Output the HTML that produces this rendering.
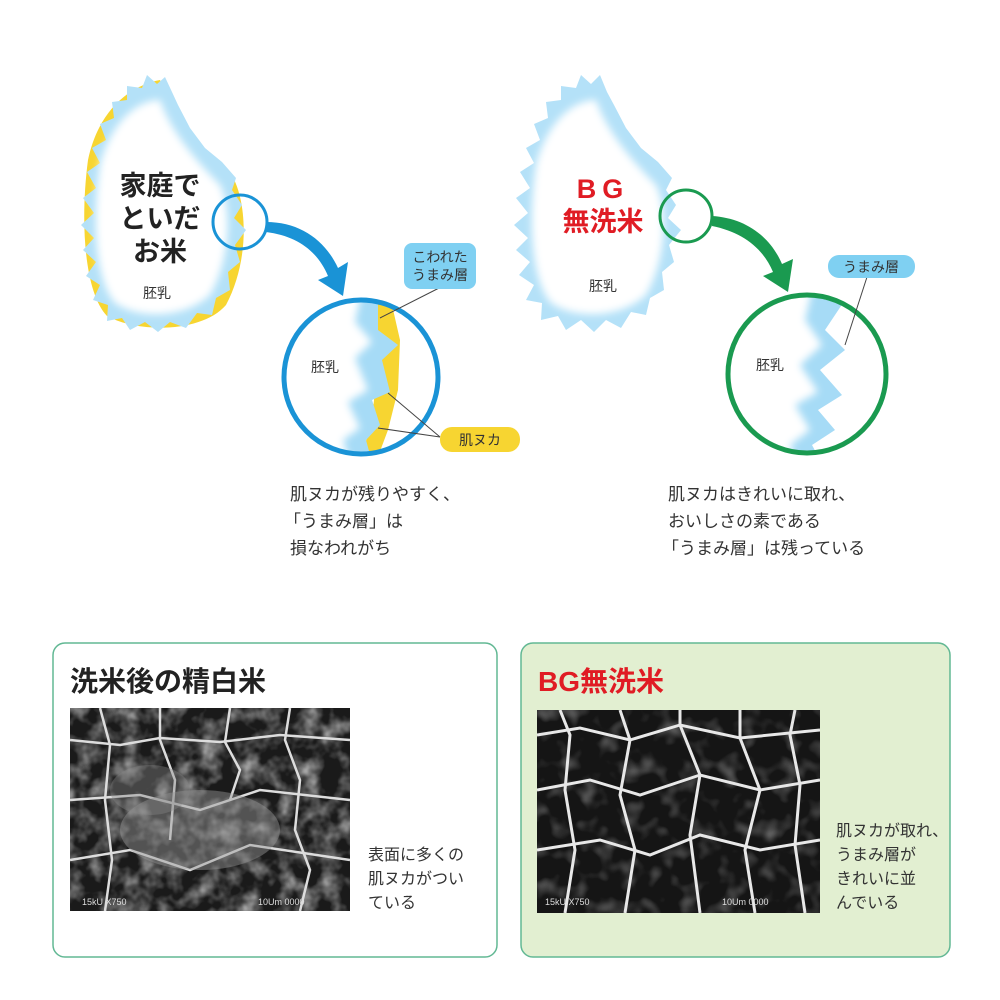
<!DOCTYPE html>
<html><head><meta charset="utf-8"><style>
body{margin:0;background:#fff;}
svg{display:block}
text{font-family:"Liberation Sans","Noto Sans CJK JP",sans-serif;}
</style></head><body>
<svg width="1000" height="1000" viewBox="0 0 1000 1000" xmlns="http://www.w3.org/2000/svg">
<defs>
<filter id="bl" x="-10%" y="-10%" width="120%" height="120%"><feGaussianBlur stdDeviation="4"/></filter>
<filter id="noise" x="0" y="0" width="100%" height="100%">
<feTurbulence type="fractalNoise" baseFrequency="0.05" numOctaves="3" seed="4"/>
<feColorMatrix type="matrix" values="0 0 0 0 0.75  0 0 0 0 0.75  0 0 0 0 0.75  1.4 0 0 0 -0.55"/>
</filter>
<filter id="noise2" x="0" y="0" width="100%" height="100%">
<feTurbulence type="fractalNoise" baseFrequency="0.05" numOctaves="2" seed="7"/>
<feColorMatrix type="matrix" values="0 0 0 0 0.7  0 0 0 0 0.7  0 0 0 0 0.7  1.0 0 0 0 -0.5"/>
</filter>
<clipPath id="c1"><circle cx="361" cy="377" r="77"/></clipPath>
<clipPath id="c2"><circle cx="807" cy="374" r="78"/></clipPath>
<clipPath id="p1"><rect x="70" y="708" width="280" height="203"/></clipPath>
<clipPath id="p2"><rect x="537" y="710" width="283" height="203"/></clipPath>
</defs>

<!-- left grain -->
<path d="M160,80 C172,110 200,150 230,172 C248,200 250,260 226,305 C203,332 140,334 107,316 C84,292 80,220 88,160 C98,112 128,86 160,80Z" fill="#f7d531"/>
<path d="M165,77 L172,92 L178,105 L190,128 L205,148 L222,162 L236,178 L232,190 L242,205 L234,218 L246,230 L235,245 L240,262 L228,272 L230,290 L216,298 L212,315 L197,313 L186,328 L170,322 L158,332 L145,322 L130,330 L122,318 L107,321 L108,305 L93,300 L100,285 L86,276 L96,262 L83,250 L94,238 L81,225 L94,213 L83,198 L96,188 L87,172 L100,163 L92,148 L106,140 L100,124 L114,118 L112,102 L127,100 L127,86 L142,88 L147,75 L157,84Z" fill="#b4e1f8"/>
<path d="M160,100 C170,130 195,160 220,185 C232,210 230,260 210,295 C185,318 140,320 115,303 C95,280 92,220 100,165 C110,125 135,100 160,100Z" fill="#fff" filter="url(#bl)"/>
<text x="160" y="195" font-size="27" font-weight="bold" text-anchor="middle" fill="#222">家庭で</text>
<text x="160" y="228" font-size="27" font-weight="bold" text-anchor="middle" fill="#222">といだ</text>
<text x="160" y="261" font-size="27" font-weight="bold" text-anchor="middle" fill="#222">お米</text>
<text x="157" y="298" font-size="14" text-anchor="middle" fill="#333">胚乳</text>
<circle cx="240" cy="222" r="27" fill="none" stroke="#1a93d6" stroke-width="3"/>
<path d="M266,222 C300,222 325,240 338,268 L348,262 L343,296 L318,280 L328,276 C318,252 298,236 266,232Z" fill="#1a93d6"/>

<!-- left big circle -->
<g clip-path="url(#c1)">
<path d="M378,300 L392,305 L400,340 L398,390 L388,430 L376,462 L360,462 L372,420 L378,360Z" fill="#f7d531"/>
<path d="M280,290 L378,290 L378,330 L398,345 L382,360 L390,392 L372,400 L380,425 L366,440 L372,462 L280,462Z" fill="#a6dbf6"/>
<path d="M280,290 L362,290 L355,322 L372,342 L355,358 L368,390 L348,402 L360,428 L343,440 L350,462 L280,462Z" fill="#fff" filter="url(#bl)"/>
</g>
<circle cx="361" cy="377" r="77" fill="none" stroke="#1a93d6" stroke-width="5"/>
<text x="325" y="372" font-size="14" text-anchor="middle" fill="#333">胚乳</text>
<line x1="380" y1="318" x2="445" y2="285" stroke="#444" stroke-width="1"/>
<line x1="388" y1="393" x2="440" y2="437" stroke="#444" stroke-width="1"/>
<line x1="378" y1="428" x2="440" y2="437" stroke="#444" stroke-width="1"/>
<rect x="404" y="243" width="72" height="46" rx="8" fill="#7fd0f2"/>
<text x="440" y="262" font-size="14" text-anchor="middle" fill="#333">こわれた</text>
<text x="440" y="280" font-size="14" text-anchor="middle" fill="#333">うまみ層</text>
<rect x="440" y="427" width="80" height="25" rx="12" fill="#f7d531"/>
<text x="480" y="445" font-size="14" text-anchor="middle" fill="#333">肌ヌカ</text>
<text x="290" y="500" font-size="17" fill="#333">肌ヌカが残りやすく、</text>
<text x="284" y="527" font-size="17" fill="#333">「うまみ層」は</text>
<text x="290" y="554" font-size="17" fill="#333">損なわれがち</text>

<!-- right grain -->
<path d="M600,75 L607,92 L614,105 L626,128 L641,148 L658,162 L672,178 L666,190 L676,205 L668,218 L681,230 L669,245 L674,262 L662,272 L664,290 L650,298 L646,315 L631,312 L621,328 L606,320 L594,332 L581,320 L566,330 L558,316 L541,320 L542,303 L526,300 L534,285 L519,275 L530,262 L516,250 L528,238 L514,225 L528,213 L516,198 L530,188 L520,172 L534,163 L526,148 L540,140 L534,124 L548,118 L546,102 L561,100 L561,86 L576,88 L581,75 L591,84Z" fill="#b4e1f8"/>
<path d="M596,100 C606,130 631,160 656,185 C668,210 666,260 646,295 C621,318 576,320 551,303 C531,280 528,220 536,165 C546,125 571,100 596,100Z" fill="#fff" filter="url(#bl)"/>
<text x="603" y="198" font-size="27" font-weight="bold" text-anchor="middle" fill="#e01c24" letter-spacing="6">BG</text>
<text x="603" y="231" font-size="27" font-weight="bold" text-anchor="middle" fill="#e01c24">無洗米</text>
<text x="603" y="291" font-size="14" text-anchor="middle" fill="#333">胚乳</text>
<circle cx="686" cy="216" r="26" fill="none" stroke="#1a9a50" stroke-width="3"/>
<path d="M712,216 C745,218 770,236 782,264 L793,259 L788,292 L763,276 L773,272 C763,248 742,232 712,226Z" fill="#1a9a50"/>

<g clip-path="url(#c2)">
<path d="M780,290 L830,290 L825,300 L845,300 L825,330 L845,350 L820,370 L842,395 L818,410 L835,430 L812,445 L820,460 L780,460Z" fill="#a6dbf6"/>
<path d="M720,290 L812,290 L805,320 L822,345 L800,365 L818,392 L795,405 L810,430 L790,445 L796,460 L720,460Z" fill="#fff" filter="url(#bl)"/>
</g>
<circle cx="807" cy="374" r="79" fill="none" stroke="#1a9a50" stroke-width="5"/>
<text x="770" y="370" font-size="14" text-anchor="middle" fill="#333">胚乳</text>
<line x1="845" y1="345" x2="867" y2="277" stroke="#444" stroke-width="1"/>
<rect x="828" y="255" width="87" height="23" rx="11" fill="#7fd0f2"/>
<text x="871" y="272" font-size="14" text-anchor="middle" fill="#333">うまみ層</text>
<text x="668" y="500" font-size="17" fill="#333">肌ヌカはきれいに取れ、</text>
<text x="668" y="527" font-size="17" fill="#333">おいしさの素である</text>
<text x="662" y="554" font-size="17" fill="#333">「うまみ層」は残っている</text>

<!-- bottom boxes -->
<rect x="53" y="643" width="444" height="314" rx="12" fill="#fff" stroke="#62b894" stroke-width="1.5"/>
<rect x="521" y="643" width="429" height="314" rx="12" fill="#e2efd1" stroke="#62b894" stroke-width="1.5"/>
<text x="70" y="691" font-size="28" font-weight="bold" fill="#222">洗米後の精白米</text>
<text x="538" y="691" font-size="28" font-weight="bold" fill="#e01c24">BG無洗米</text>

<g clip-path="url(#p1)">
<rect x="70" y="708" width="280" height="203" fill="#1a1a1a"/>
<rect x="70" y="708" width="280" height="203" filter="url(#noise)"/>
<g fill="none" stroke="#ddd" stroke-width="2.5">
<path d="M70,740 L120,745 L160,738 L220,742 L280,735 L350,740"/>
<path d="M100,708 L110,745 L105,800 L112,860 L105,911"/>
<path d="M160,708 L160,740 L175,780 L170,840"/>
<path d="M230,708 L225,742 L240,770 L230,800"/>
<path d="M290,708 L285,740 L300,780 L295,830 L310,870 L300,911"/>
<path d="M70,800 L140,795 L200,810 L260,790 L350,800"/>
<path d="M70,860 L130,850 L190,870 L250,845 L350,860"/>
</g>
<ellipse cx="200" cy="830" rx="80" ry="40" fill="#999" opacity="0.45"/>
<ellipse cx="150" cy="790" rx="40" ry="25" fill="#888" opacity="0.4"/>
<text x="82" y="905" font-size="9" fill="#ddd" font-family="Liberation Mono">15kU X750</text>
<text x="258" y="905" font-size="9" fill="#ddd" font-family="Liberation Mono">10Um 0000</text>
</g>

<g clip-path="url(#p2)">
<rect x="537" y="710" width="283" height="203" fill="#151515"/>
<rect x="537" y="710" width="283" height="203" filter="url(#noise2)"/>
<g fill="none" stroke="#e8e8e8" stroke-width="3">
<path d="M537,735 L580,728 L630,740 L680,725 L740,738 L820,730"/>
<path d="M537,790 L590,780 L640,795 L700,775 L760,790 L820,780"/>
<path d="M537,850 L600,840 L650,855 L700,835 L760,850 L820,840"/>
<path d="M560,710 L570,735 L565,790 L575,850 L565,913"/>
<path d="M620,710 L630,740 L620,795 L635,850 L625,913"/>
<path d="M680,710 L680,725 L700,775 L690,835 L700,913"/>
<path d="M740,710 L740,738 L760,790 L745,850 L755,913"/>
<path d="M795,710 L790,735 L800,785 L795,845 L805,913"/>
</g>
<text x="545" y="905" font-size="9" fill="#ddd" font-family="Liberation Mono">15kU X750</text>
<text x="722" y="905" font-size="9" fill="#ddd" font-family="Liberation Mono">10Um 0000</text>
</g>

<text x="368" y="860" font-size="16" fill="#333">表面に多くの</text>
<text x="368" y="884" font-size="16" fill="#333">肌ヌカがつい</text>
<text x="368" y="908" font-size="16" fill="#333">ている</text>
<text x="836" y="836" font-size="16" fill="#333">肌ヌカが取れ、</text>
<text x="836" y="860" font-size="16" fill="#333">うまみ層が</text>
<text x="836" y="884" font-size="16" fill="#333">きれいに並</text>
<text x="836" y="908" font-size="16" fill="#333">んでいる</text>
</svg>
</body></html>
